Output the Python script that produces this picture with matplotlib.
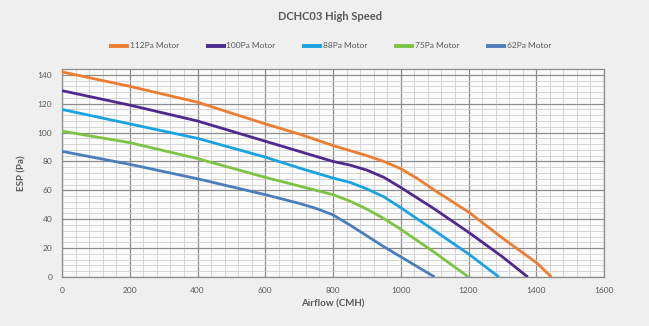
import matplotlib
matplotlib.use("Agg")
import matplotlib.pyplot as plt
from matplotlib.ticker import MultipleLocator

plt.rcParams['font.family'] = ['Lato', 'DejaVu Sans']

# curve data (airflow CMH -> ESP Pa)
x_112 = [0, 200, 400, 600, 700, 800, 900, 950, 1000, 1050, 1100, 1200, 1300, 1400, 1445]
y_112 = [142, 132, 121, 106, 99, 91, 84, 80, 75, 68, 60, 45, 27, 10, 0]
x_100 = [0, 200, 400, 600, 700, 800, 850, 900, 950, 1000, 1050, 1100, 1200, 1300, 1375]
y_100 = [129, 119, 108, 94, 87, 80, 77.5, 74, 69, 62, 54.5, 47, 31, 14, 0]
x_88 = [0, 200, 400, 600, 700, 800, 850, 900, 950, 1000, 1050, 1100, 1200, 1290]
y_88 = [116, 106, 96, 83, 75.5, 68.5, 65.5, 61, 55.5, 48, 40, 32, 16, 0]
x_75 = [0, 200, 400, 600, 700, 800, 850, 900, 950, 1000, 1050, 1100, 1200]
y_75 = [101, 93, 82, 69, 63, 57, 52.5, 47, 40.5, 33, 25, 17, 0]
x_62 = [0, 200, 400, 600, 700, 750, 800, 850, 900, 950, 1000, 1050, 1100]
y_62 = [87, 78, 68, 57, 51, 47.5, 43, 36, 28.5, 21, 14, 7, 0]

labels = ["112Pa Motor", "100Pa Motor", "88Pa Motor", "75Pa Motor", "62Pa Motor"]
colors = ["#ED7D31", "#4E2A8E", "#1AA3E3", "#7CC444", "#4A7EBB"]

fig = plt.figure(figsize=(6.49, 3.26), dpi=100, facecolor="#efefef")
ax = fig.add_axes([62 / 649, 49 / 326, 542 / 649, 208 / 326])
ax.set_facecolor("#fbfbfb")

series = [(x_112, y_112), (x_100, y_100), (x_88, y_88), (x_75, y_75), (x_62, y_62)]
for (xs, ys), lab, c in zip(series, labels, colors):
    ax.plot(xs, ys, color=c, lw=2.0, label=lab, solid_capstyle="butt",
            solid_joinstyle="round", zorder=3)

ax.set_xlim(0, 1600)
ax.set_ylim(0, 144)
ax.xaxis.set_major_locator(MultipleLocator(200))
ax.xaxis.set_minor_locator(MultipleLocator(40))
ax.yaxis.set_major_locator(MultipleLocator(20))
ax.yaxis.set_minor_locator(MultipleLocator(4))
ax.grid(which="major", color="#8c8c8c", lw=0.9)
ax.grid(which="minor", color="#cfcfcf", lw=0.6)
ax.set_axisbelow(True)
for s in ax.spines.values():
    s.set_color("#8c8c8c")
    s.set_linewidth(0.9)
ax.tick_params(which="both", length=0, labelsize=6, colors="#595959", pad=7)

ax.set_xlabel("Airflow (CMH)", fontsize=7, fontweight="bold", color="#595959", labelpad=4)
ax.set_ylabel("ESP (Pa)", fontsize=7, fontweight="bold", color="#595959", labelpad=8)

fig.text(330 / 649, 1 - 17 / 326, "DCHC03 High Speed", ha="center", va="center",
         fontsize=8, fontweight="bold", color="#595959")
leg = fig.legend(loc="center", bbox_to_anchor=(330 / 649, 1 - 46 / 326), ncol=5, frameon=False,
                 fontsize=6, labelcolor="#595959", handlelength=2.4, handletextpad=0.1,
                 columnspacing=3.2)
for h in leg.legend_handles:
    h.set_linewidth(2.8)

fig.savefig("out.png", dpi=100, facecolor=fig.get_facecolor())
